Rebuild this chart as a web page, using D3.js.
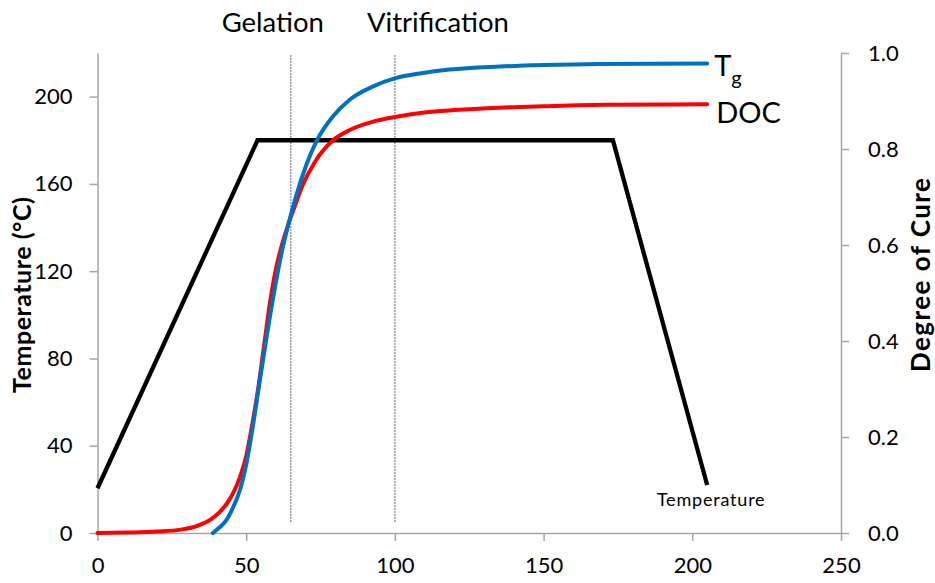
<!DOCTYPE html>
<html lang="en">
<head>
    <meta charset="UTF-8">
    <script src="https://cdn.jsdelivr.net/npm/d3@7"></script>
    <title>Cure profile</title>
    <style>
        body { margin: 0; background: #fff; }
        text { font-family: Lato, "Open Sans", sans-serif; fill: #000; }
    </style>
</head>
<body>
<script>
// cure cycle: temperature profile, Tg and degree of cure vs time
var tempTime = [0, 53.8, 173.3, 205];
var tempC = [20.5, 180, 180, 22];

var tgTime = [38.8, 41, 43.4, 45.5, 47.9, 50.1, 52.4, 54.6, 57, 59.6, 62, 64.1, 66.9, 70.3, 73.6, 79.2, 84.8, 92.7, 100.5, 108.4, 118.4, 135.2, 150, 168.9, 205];
var tgC = [0, 2.5, 6, 11.5, 19.7, 32, 50.3, 70, 91, 112, 129, 141, 155, 169, 179.5, 191, 198.6, 204.7, 208.6, 210.6, 212.4, 213.8, 214.5, 215, 215.2];

var docTime = [0, 10, 20, 28, 34, 38, 41, 44, 46, 48, 50, 52, 54, 56, 58, 60, 62, 64, 66, 69, 73, 79, 85, 92.7, 100.5, 110, 120, 135, 150, 170, 205];
var docVal = [0, 0.001, 0.003, 0.007, 0.016, 0.028, 0.043, 0.066, 0.088, 0.118, 0.16, 0.225, 0.3, 0.39, 0.48, 0.55, 0.6, 0.64, 0.675, 0.725, 0.772, 0.817, 0.84, 0.857, 0.867, 0.876, 0.881, 0.886, 0.889, 0.892, 0.893];

var phaseTime = [65, 100];
var phaseLabel = ["Gelation", "Vitrification"];

var xTicks = [0, 50, 100, 150, 200, 250];
var leftTicks = [0, 40, 80, 120, 160, 200];
var rightTicks = [0, 0.2, 0.4, 0.6, 0.8, 1.0];

var width = 935, height = 583;
var svg = d3.select("body").append("svg")
            .attr("width", width).attr("height", height);

var x = d3.scaleLinear().domain([0, 250]).range([97.5, 841]);
var yL = d3.scaleLinear().domain([0, 220]).range([533, 53]);
var yR = d3.scaleLinear().domain([0, 1]).range([533, 53]);

var axisColor = "#a6a6a6";

function styleAxis(g){
    g.selectAll("path").attr("stroke", axisColor).attr("stroke-width", 1.5);
    g.selectAll("line").attr("stroke", axisColor).attr("stroke-width", 1.5);
    g.selectAll("text").attr("font-size", "22px").attr("font-family", "Lato, sans-serif").attr("fill", "#000");
}

svg.append("g")
    .attr("transform", "translate(0,533)")
    .call(d3.axisBottom(x).tickValues(xTicks).tickSize(8).tickSizeOuter(0).tickPadding(16))
    .call(styleAxis);

svg.append("g")
    .attr("transform", "translate(97.5,0)")
    .call(d3.axisLeft(yL).tickValues(leftTicks).tickSize(8).tickSizeOuter(0).tickPadding(17))
    .call(styleAxis);

svg.append("g")
    .attr("transform", "translate(841,0)")
    .call(d3.axisRight(yR).tickValues(rightTicks).tickFormat(d3.format(".1f")).tickSize(8).tickSizeOuter(0).tickPadding(19))
    .call(styleAxis);

// gelation / vitrification markers
svg.selectAll(".phase").data(phaseTime)
    .enter().append("line")
    .attr("x1", function(d){ return x(d); })
    .attr("x2", function(d){ return x(d); })
    .attr("y1", yL(219))
    .attr("y2", yL(4.6))
    .attr("stroke", "#555")
    .attr("stroke-width", 1.2)
    .attr("stroke-dasharray", "1.5,1.5");

var labelShift = [-18, 43];
svg.selectAll(".phaseLabel").data(phaseLabel)
    .enter().append("text")
    .attr("x", function(d, i){ return x(phaseTime[i]) + labelShift[i]; })
    .attr("y", 32)
    .attr("text-anchor", "middle")
    .attr("font-size", "27.5px")
    .text(function(d){ return d; });

// curves
var tempLine = d3.line()
    .x(function(d, i){ return x(tempTime[i]); })
    .y(function(d){ return yL(d); });

var tgLine = d3.line()
    .curve(d3.curveMonotoneX)
    .x(function(d, i){ return x(tgTime[i]); })
    .y(function(d){ return yL(d); });

var docLine = d3.line()
    .curve(d3.curveMonotoneX)
    .x(function(d, i){ return x(docTime[i]); })
    .y(function(d){ return yR(d); });

svg.append("path").datum(tempC)
    .attr("d", tempLine)
    .attr("fill", "none")
    .attr("stroke", "#000")
    .attr("stroke-width", 4.3);

svg.append("path").datum(docVal)
    .attr("d", docLine)
    .attr("fill", "none")
    .attr("stroke", "#ff0000")
    .attr("stroke-width", 4)
    .attr("stroke-linecap", "round");

svg.append("path").datum(tgC)
    .attr("d", tgLine)
    .attr("fill", "none")
    .attr("stroke", "#0070c0")
    .attr("stroke-width", 4)
    .attr("stroke-linecap", "round");

// series labels
var tgLabel = svg.append("text")
    .attr("x", x(205) + 7)
    .attr("y", yL(tgC[tgC.length - 1]) + 13)
    .attr("font-size", "29px");
tgLabel.append("tspan").text("T");
tgLabel.append("tspan").attr("font-size", "20px").attr("dy", 9).text("g");

svg.append("text")
    .attr("x", x(205) + 9)
    .attr("y", yR(docVal[docVal.length - 1]) + 19)
    .attr("font-size", "29px")
    .text("DOC");

svg.append("text")
    .attr("x", x(tempTime[3]) + 4)
    .attr("y", 506)
    .attr("text-anchor", "middle")
    .attr("font-size", "18px")
    .attr("letter-spacing", "0.8px")
    .text("Temperature");

// axis titles
svg.append("text")
    .attr("transform", "translate(31,295) rotate(-90)")
    .attr("text-anchor", "middle")
    .attr("font-size", "25px")
    .attr("font-weight", "bold")
    .attr("textLength", 196)
    .attr("lengthAdjust", "spacing")
    .text("Temperature (°C)");

svg.append("text")
    .attr("transform", "translate(930,275) rotate(-90)")
    .attr("text-anchor", "middle")
    .attr("font-size", "26px")
    .attr("font-weight", "bold")
    .attr("textLength", 194)
    .attr("lengthAdjust", "spacing")
    .text("Degree of Cure");
</script>
</body>
</html>
